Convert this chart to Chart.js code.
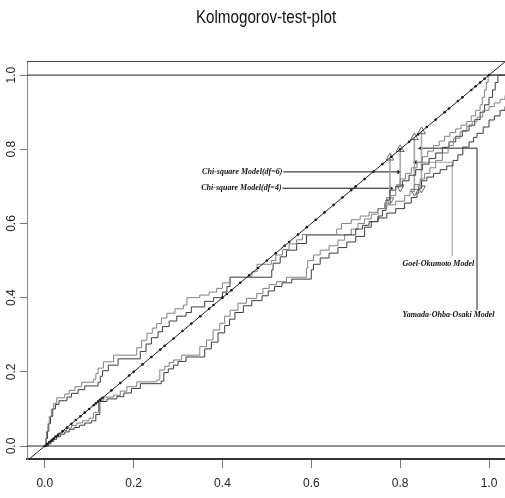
<!DOCTYPE html>
<html>
<head>
<title>Kolmogorov-test-plot</title>
<script src="https://cdn.jsdelivr.net/npm/chart.js"></script>
<style>
  html, body { margin: 0; padding: 0; background: #fff; }
</style>
</head>
<body>
<canvas id="ksChart" width="505" height="498"></canvas>
<script>
// ---- values ----
const titleText = 'Kolmogorov-test-plot';
const xTicks = [0, 0.2, 0.4, 0.6, 0.8, 1.0];
const yTicks = [0, 0.2, 0.4, 0.6, 0.8, 1.0];
const refLevels = [0, 1];

// dots sitting on the y = x line
const diagDots = [0, 0.005, 0.01, 0.015, 0.02, 0.025, 0.03, 0.04, 0.05, 0.06, 0.07, 0.08, 0.09, 0.1,
  0.11, 0.115, 0.12, 0.125, 0.13, 0.15, 0.17, 0.19, 0.2, 0.22, 0.24, 0.26, 0.27, 0.29, 0.31, 0.33,
  0.35, 0.37, 0.38, 0.4, 0.41, 0.42, 0.44, 0.46, 0.48, 0.5, 0.52, 0.54, 0.55, 0.57, 0.59, 0.61,
  0.63, 0.65, 0.67, 0.69, 0.7, 0.72, 0.74, 0.76, 0.78, 0.8, 0.82, 0.84, 0.86, 0.88, 0.9, 0.91,
  0.93, 0.94, 0.96, 0.97, 0.98, 0.99, 1.0];

// step curves (riser positions and levels)
const goelX = [0, 0.002, 0.004, 0.007, 0.010, 0.015, 0.020, 0.027, 0.045, 0.055, 0.068, 0.083, 0.110, 0.115,
  0.120, 0.132, 0.155, 0.207, 0.218, 0.230, 0.242, 0.252, 0.263, 0.275, 0.293, 0.312, 0.320, 0.349, 0.370,
  0.387, 0.400, 0.417, 0.466, 0.478, 0.510, 0.520, 0.535, 0.550, 0.567, 0.580, 0.657, 0.668, 0.690, 0.710,
  0.730, 0.750, 0.770, 0.790, 0.810, 0.822, 0.832, 0.845, 0.855, 0.867, 0.880, 0.895, 0.908, 0.920, 0.935,
  0.950, 0.962, 0.973, 0.986, 1.000, 1.012, 1.025, 1.036];
const goelY = [0, 0.02, 0.04, 0.06, 0.08, 0.10, 0.115, 0.13, 0.14, 0.15, 0.16, 0.172, 0.18, 0.195, 0.21,
  0.227, 0.245, 0.265, 0.285, 0.304, 0.318, 0.33, 0.345, 0.358, 0.37, 0.38, 0.40, 0.407, 0.415, 0.425, 0.44,
  0.455, 0.47, 0.49, 0.50, 0.515, 0.53, 0.545, 0.556, 0.57, 0.585, 0.60, 0.61, 0.62, 0.63, 0.64, 0.65, 0.66,
  0.675, 0.686, 0.705, 0.72, 0.735, 0.75, 0.77, 0.79, 0.81, 0.83, 0.848, 0.862, 0.875, 0.887, 0.905, 0.915,
  0.925, 0.935, 0.945];

const yamadaX = [0, 0.003, 0.006, 0.009, 0.013, 0.018, 0.024, 0.032, 0.050, 0.060, 0.075, 0.090, 0.120,
  0.125, 0.130, 0.143, 0.165, 0.215, 0.228, 0.240, 0.255, 0.265, 0.280, 0.297, 0.318, 0.330, 0.360, 0.380,
  0.400, 0.410, 0.417, 0.511, 0.514, 0.530, 0.544, 0.567, 0.589, 0.700, 0.715, 0.730, 0.750, 0.770, 0.790,
  0.810, 0.825, 0.838, 0.842, 0.848, 0.860, 0.875, 0.890, 0.905, 0.919, 0.930, 0.941, 0.955, 0.965, 0.973,
  0.987, 1.000, 1.012, 1.025, 1.036];
const yamadaY = [0, 0.02, 0.04, 0.06, 0.08, 0.10, 0.112, 0.122, 0.132, 0.142, 0.152, 0.162, 0.172, 0.188,
  0.203, 0.218, 0.235, 0.255, 0.275, 0.292, 0.308, 0.322, 0.337, 0.35, 0.36, 0.375, 0.39, 0.40, 0.415, 0.43,
  0.455, 0.475, 0.493, 0.51, 0.528, 0.546, 0.569, 0.585, 0.595, 0.605, 0.615, 0.628, 0.64, 0.655, 0.67,
  0.682, 0.695, 0.715, 0.725, 0.735, 0.745, 0.755, 0.77, 0.785, 0.806, 0.82, 0.832, 0.843, 0.86, 0.879,
  0.89, 0.905, 0.915];

const chi6X = [0, 0.005, 0.010, 0.016, 0.022, 0.030, 0.040, 0.050, 0.060, 0.072, 0.085, 0.100, 0.110, 0.121,
  0.133, 0.155, 0.170, 0.185, 0.207, 0.252, 0.259, 0.270, 0.280, 0.290, 0.308, 0.349, 0.364, 0.379, 0.394,
  0.405, 0.417, 0.435, 0.454, 0.477, 0.491, 0.505, 0.522, 0.544, 0.589, 0.592, 0.605, 0.620, 0.640, 0.660,
  0.675, 0.690, 0.705, 0.720, 0.735, 0.750, 0.765, 0.778, 0.790, 0.800, 0.812, 0.825, 0.838, 0.850, 0.862,
  0.875, 0.888, 0.900, 0.912, 0.925, 0.937, 0.950, 0.960, 0.970, 0.980, 0.985, 0.990, 0.994, 0.998, 1.040];
const chi6Y = [0, 0.008, 0.014, 0.02, 0.028, 0.035, 0.042, 0.048, 0.055, 0.062, 0.068, 0.075, 0.09, 0.124,
  0.132, 0.137, 0.148, 0.16, 0.173, 0.178, 0.205, 0.215, 0.225, 0.232, 0.245, 0.268, 0.286, 0.313, 0.331,
  0.35, 0.366, 0.385, 0.398, 0.411, 0.425, 0.435, 0.443, 0.455, 0.48, 0.50, 0.515, 0.528, 0.54, 0.555, 0.57,
  0.585, 0.60, 0.612, 0.625, 0.64, 0.655, 0.675, 0.698, 0.72, 0.735, 0.75, 0.765, 0.78, 0.795, 0.81, 0.822,
  0.835, 0.845, 0.855, 0.865, 0.875, 0.89, 0.905, 0.92, 0.94, 0.96, 0.98, 1.0, 1.0];

const chi4X = [0, 0.008, 0.014, 0.020, 0.027, 0.035, 0.045, 0.055, 0.066, 0.078, 0.090, 0.105, 0.115, 0.124,
  0.140, 0.162, 0.178, 0.195, 0.215, 0.262, 0.268, 0.278, 0.290, 0.300, 0.318, 0.360, 0.375, 0.390, 0.405,
  0.416, 0.428, 0.447, 0.466, 0.489, 0.503, 0.517, 0.534, 0.556, 0.600, 0.605, 0.620, 0.640, 0.660, 0.680,
  0.700, 0.720, 0.735, 0.750, 0.760, 0.768, 0.777, 0.790, 0.805, 0.820, 0.835, 0.850, 0.865, 0.880, 0.895,
  0.910, 0.925, 0.940, 0.955, 0.968, 0.980, 0.990, 1.000, 1.008, 1.014, 1.020, 1.040];
const chi4Y = [0, 0.006, 0.012, 0.018, 0.025, 0.032, 0.038, 0.045, 0.05, 0.056, 0.062, 0.068, 0.085, 0.12,
  0.127, 0.133, 0.143, 0.155, 0.168, 0.175, 0.198, 0.208, 0.218, 0.228, 0.24, 0.262, 0.28, 0.305, 0.325,
  0.342, 0.36, 0.378, 0.392, 0.405, 0.418, 0.43, 0.44, 0.45, 0.475, 0.49, 0.507, 0.52, 0.535, 0.55, 0.565,
  0.59, 0.605, 0.62, 0.635, 0.663, 0.69, 0.70, 0.715, 0.73, 0.745, 0.76, 0.775, 0.79, 0.805, 0.82, 0.835,
  0.85, 0.865, 0.88, 0.90, 0.92, 0.94, 0.96, 0.98, 1.0, 1.0];

// largest-gap markers: x position, curve level at the bottom
const gapX = [0.777, 0.800, 0.832, 0.848];
const gapLow = [0.663, 0.698, 0.686, 0.695];

// labels and their leader lines
const labelText = ['Chi-square Model(df=6)', 'Chi-square Model(df=4)', 'Goel-Okumoto Model', 'Yamada-Ohba-Osaki Model'];
const labelX = [0.535, 0.533, 0.886, 0.909];
const labelY = [0.739, 0.695, 0.491, 0.353];
const leaderX = [[0.537, 0.797], [0.535, 0.779], [0.917, 0.917, 0.834], [0.973, 0.973, 0.846]];
const leaderY = [[0.739, 0.739], [0.695, 0.695], [0.512, 0.765, 0.765], [0.366, 0.803, 0.803]];

// ---- build chart ----
function pts(xs, ys) { return xs.map((v, i) => ({x: v, y: ys[i]})); }

const datasets = [];
// y = x line and its dots
datasets.push({data: [{x: -0.05, y: -0.05}, {x: 1.05, y: 1.05}], showLine: true, borderColor: '#222',
  borderWidth: 1, pointRadius: 0});
datasets.push({data: diagDots.map(v => ({x: v, y: v})), showLine: false, pointRadius: 1.3,
  pointBackgroundColor: '#111', pointBorderWidth: 0});
refLevels.forEach(v => datasets.push({data: [{x: -0.05, y: v}, {x: 1.05, y: v}], showLine: true,
  borderColor: '#222', borderWidth: 1, pointRadius: 0}));

const curves = [[goelX, goelY, '#808080'], [yamadaX, yamadaY, '#3c3c3c'], [chi6X, chi6Y, '#808080'], [chi4X, chi4Y, '#3c3c3c']];
curves.forEach(c => datasets.push({data: pts(c[0], c[1]), showLine: true, stepped: 'before',
  borderColor: c[2], borderWidth: 1, pointRadius: 0}));

// gap drop lines with triangles
gapX.forEach((v, i) => {
  datasets.push({data: [{x: v, y: v}, {x: v, y: gapLow[i]}], showLine: true, borderColor: '#a8a8a8',
    borderWidth: 1.6, pointStyle: 'triangle', pointRadius: 4.5, pointRotation: [0, 180],
    pointBorderColor: '#666', pointBackgroundColor: 'rgba(0,0,0,0)', pointBorderWidth: 1});
});

// leader lines with arrow heads
const leaderColor = ['#111', '#111', '#999', '#222'];
leaderX.forEach((xs, i) => {
  const n = xs.length;
  datasets.push({data: pts(xs, leaderY[i]), showLine: true, borderColor: leaderColor[i], borderWidth: 1,
    pointStyle: 'triangle', pointRadius: xs.map((_, k) => k === n - 1 ? 2.6 : 0),
    pointRotation: n === 2 ? 90 : -90, pointBackgroundColor: '#111', pointBorderColor: '#111', pointBorderWidth: 0});
});

const annotate = {
  id: 'annotate',
  afterDatasetsDraw(chart) {
    const {ctx, chartArea, scales: {x, y}} = chart;
    ctx.save();
    ctx.strokeStyle = '#444';
    ctx.lineWidth = 1;
    ctx.beginPath();
    ctx.moveTo(chartArea.left, chartArea.top + 0.5);
    ctx.lineTo(chartArea.right, chartArea.top + 0.5);
    ctx.stroke();
    ctx.font = 'italic bold 8px "Liberation Serif"';
    ctx.fillStyle = '#111';
    ctx.textBaseline = 'middle';
    labelText.forEach((t, i) => {
      ctx.textAlign = i < 2 ? 'right' : 'center';
      ctx.fillText(t, x.getPixelForValue(labelX[i]), y.getPixelForValue(labelY[i]));
    });
    ctx.restore();
    // title, condensed like the narrow face of the original
    ctx.save();
    ctx.font = '19px "Liberation Sans", Arial';
    ctx.fillStyle = '#111';
    ctx.textAlign = 'center';
    ctx.textBaseline = 'middle';
    ctx.translate((chartArea.left + chartArea.right) / 2, 18);
    ctx.scale(0.8, 1);
    ctx.fillText(titleText, 0, 0);
    ctx.restore();
  }
};

new Chart(document.getElementById('ksChart'), {
  type: 'scatter',
  data: {datasets: datasets},
  plugins: [annotate],
  options: {
    responsive: false,
    animation: false,
    layout: {autoPadding: false, padding: {top: 61, right: 0, left: 0, bottom: 0}},
    plugins: {
      legend: {display: false},
      tooltip: {enabled: false},
      title: {display: false}
    },
    scales: {
      x: {
        type: 'linear', min: -0.04, max: 1.036,
        afterBuildTicks: s => { s.ticks = xTicks.map(v => ({value: v})); },
        afterFit: s => { s.height = 39; s.paddingLeft = 0; s.paddingRight = 0; },
        ticks: {callback: v => v.toFixed(1), color: '#222', padding: 8,
          font: {family: '"Liberation Sans", Arial', size: 12}},
        grid: {drawOnChartArea: false, drawTicks: true, tickLength: 9, color: '#777'},
        border: {display: true, color: '#333', width: 2}
      },
      y: {
        type: 'linear', min: -0.035, max: 1.038,
        afterBuildTicks: s => { s.ticks = yTicks.map(v => ({value: v})); },
        afterFit: s => { s.width = 27; s.paddingTop = 0; s.paddingBottom = 0; },
        ticks: {callback: v => v.toFixed(1), color: '#222', padding: 0, minRotation: 90, maxRotation: 90,
          crossAlign: 'center', font: {family: '"Liberation Sans", Arial', size: 12}},
        grid: {drawOnChartArea: false, drawTicks: true, tickLength: 7, color: '#777'},
        border: {display: true, color: '#888', width: 1}
      }
    }
  }
});
</script>
</body>
</html>
